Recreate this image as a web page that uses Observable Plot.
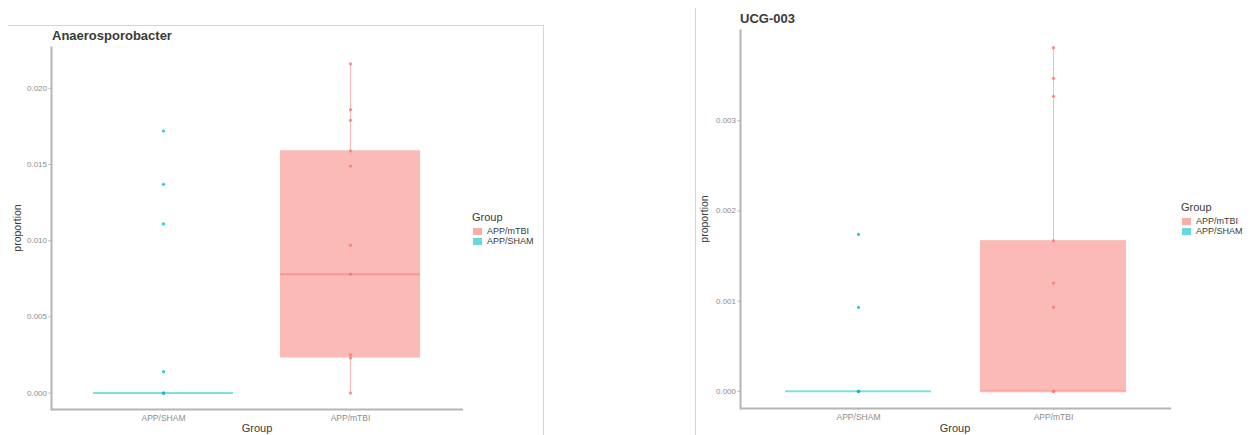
<!DOCTYPE html>
<html><head><meta charset="utf-8">
<script src="https://cdn.jsdelivr.net/npm/d3@7"></script>
<script src="https://cdn.jsdelivr.net/npm/@observablehq/plot@0.6"></script>
<style>
body{margin:0;width:1252px;height:435px;position:relative;overflow:hidden;background:#fff;font-family:"Liberation Sans",Arial,sans-serif;color:#333;}
.abs{position:absolute;white-space:nowrap;line-height:1;}
.title{font-weight:bold;font-size:13px;color:#3a3a3a;}
.ylab{font-size:10.5px;color:#3a3a3a;transform:translate(-50%,-50%) rotate(-90deg);}
.xlab{font-size:11px;color:#3a3a3a;transform:translate(-50%,-50%);}
.legt{font-size:11px;color:#3a3a3a;}
.legi{font-size:9px;color:#3a3a3a;}
.key{position:absolute;width:9px;height:7px;}
.hline{position:absolute;height:1px;background:#d4d4d4;}
.vline{position:absolute;width:1px;background:#d4d4d4;}
</style></head><body>
<script>
// ---- shared ----
const groups = ["APP/SHAM", "APP/mTBI"];
const groupColors = ["#00BFC4", "#F8766D"];
const legendOrder = ["APP/mTBI", "APP/SHAM"];
const legendTitle = "Group";
const xTitle = "Group";
const yTitle = "proportion";

// ---- panel 1: Anaerosporobacter ----
const p1Title = "Anaerosporobacter";
const p1Q1 = [0, 0.0023];
const p1Median = [0, 0.0078];
const p1Q3 = [0, 0.0159];
const p1Low = [0, 0];
const p1High = [0, 0.0216];
const p1ShamPoints = [0.0172, 0.0137, 0.0111, 0.0014, 0, 0, 0];
const p1TbiPoints = [0.0216, 0.0186, 0.0179, 0.0159, 0.0149, 0.0097, 0.0078, 0.0025, 0.0023, 0];
const p1Ticks = [0, 0.005, 0.010, 0.015, 0.020];
const p1Domain = [-0.00108, 0.02268];

// ---- panel 2: UCG-003 ----
const p2Title = "UCG-003";
const p2Q1 = [0, 0];
const p2Median = [0, 0];
const p2Q3 = [0, 0.00167];
const p2Low = [0, 0];
const p2High = [0, 0.00381];
const p2ShamPoints = [0.00174, 0.00093, 0, 0, 0];
const p2TbiPoints = [0.00381, 0.00347, 0.00327, 0.00167, 0.00120, 0.00093, 0, 0];
const p2Ticks = [0, 0.001, 0.002, 0.003];
const p2Domain = [-0.00019, 0.0040];

function panel(o) {
  const boxes = groups.map((g, i) => ({group: g, q1: o.q1[i], med: o.med[i], q3: o.q3[i], lo: o.lo[i], hi: o.hi[i]}));
  const pts = [
    ...o.sham.map(v => ({group: groups[0], v})),
    ...o.tbi.map(v => ({group: groups[1], v}))
  ];
  const axisColor = "#b5b5b5";
  return Plot.plot({
    width: o.width, height: 435,
    marginLeft: o.mL, marginRight: o.mR, marginTop: o.mT, marginBottom: o.mB,
    style: {fontFamily: "Liberation Sans, Arial, sans-serif", background: "transparent", overflow: "visible"},
    x: {domain: groups, paddingInner: 0.25, paddingOuter: 0.225, axis: null},
    y: {domain: o.domain, axis: null},
    color: {domain: groups, range: groupColors},
    marks: [
      Plot.barY(boxes, {x: "group", y1: "q1", y2: "q3", fill: "group", fillOpacity: 0.5}),
      Plot.ruleX(boxes, {x: "group", y1: "lo", y2: "q1", stroke: "group", strokeOpacity: 0.5}),
      Plot.ruleX(boxes, {x: "group", y1: "q3", y2: "hi", stroke: "group", strokeOpacity: 0.5}),
      Plot.tickY(boxes, {x: "group", y: "med", stroke: "group", strokeOpacity: 0.5, strokeWidth: 2}),
      Plot.dot(pts, {x: "group", y: "v", r: 1.6, fill: "group", fillOpacity: 0.8}),
      Plot.ruleY([o.domain[0]], {stroke: axisColor, strokeWidth: 2}),
      Plot.frame({anchor: "left", stroke: axisColor, strokeWidth: 2}),
      Plot.axisY({ticks: o.ticks, tickFormat: d3.format(".3f"), tickSize: 2.5, tickPadding: 2, fontSize: 8, fill: "#8c8c8c", stroke: axisColor, label: null}),
      Plot.axisX({tickSize: 2, tickPadding: 3, fontSize: 8.5, fill: "#8c8c8c", stroke: axisColor, label: null})
    ]
  });
}

function place(el, left, top) {
  el.style.position = "absolute";
  el.style.left = left + "px";
  el.style.top = top + "px";
  document.body.appendChild(el);
  return el;
}
function txt(cls, s, left, top) {
  const d = document.createElement("div");
  d.className = "abs " + cls;
  d.textContent = s;
  return place(d, left, top);
}
function line(cls, left, top, len) {
  const d = document.createElement("div");
  d.className = cls;
  if (cls === "hline") d.style.width = len + "px"; else d.style.height = len + "px";
  return place(d, left, top);
}
function legend(left, top) {
  txt("legt", legendTitle, left, top);
  legendOrder.forEach((g, i) => {
    const k = document.createElement("div");
    k.className = "key";
    k.style.background = groupColors[groups.indexOf(g)];
    k.style.opacity = 0.6;
    place(k, left + 1, top + 16 + i * 10);
    txt("legi", g, left + 15, top + 15 + i * 10);
  });
}

// decorative frames
line("hline", 8, 25, 536);
line("vline", 543, 25, 410);
line("vline", 695, 8, 427);

// panel 1
place(panel({q1: p1Q1, med: p1Median, q3: p1Q3, lo: p1Low, hi: p1High, sham: p1ShamPoints, tbi: p1TbiPoints,
  ticks: p1Ticks, domain: p1Domain, width: 470, mL: 51, mR: 7, mT: 47, mB: 26}), 0, 0);
txt("title", p1Title, 52, 29);
txt("ylab", yTitle, 17, 228);
txt("xlab", xTitle, 257, 428);
legend(472, 212);

// panel 2
place(panel({q1: p2Q1, med: p2Median, q3: p2Q3, lo: p2Low, hi: p2High, sham: p2ShamPoints, tbi: p2TbiPoints,
  ticks: p2Ticks, domain: p2Domain, width: 490, mL: 50, mR: 9, mT: 30, mB: 27}), 690, 0);
txt("title", p2Title, 740, 12);
txt("ylab", yTitle, 704, 219);
txt("xlab", xTitle, 955, 428);
legend(1181, 202);
</script>
</body></html>
